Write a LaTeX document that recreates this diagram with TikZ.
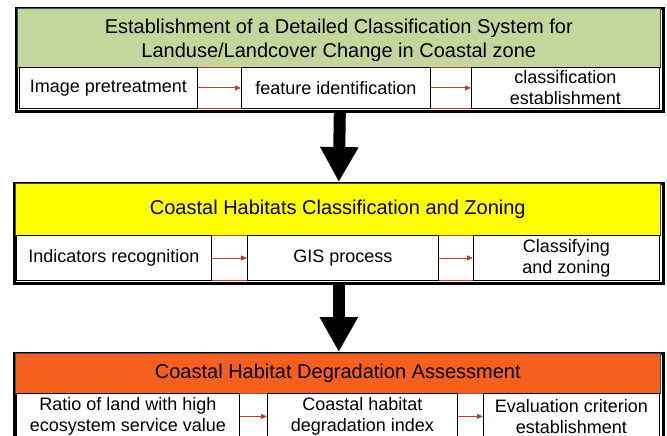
\documentclass[tikz,border=0pt]{standalone}
\usepackage{fontspec}
\setmainfont{Liberation Sans}
\usetikzlibrary{arrows.meta}
\definecolor{hgreen}{RGB}{195,214,155}
\definecolor{hyellow}{RGB}{255,255,0}
\definecolor{horange}{RGB}{245,96,30}
\definecolor{gapred}{RGB}{192,60,50}
\begin{document}
\begin{tikzpicture}[x=1pt,y=-1pt,
  frame/.style={draw=black,line width=2.6pt,anchor=north west,inner sep=0pt},
  header/.style={draw=black!70,line width=0.6pt,anchor=north west,inner sep=0pt,align=center,
    font=\fontsize{20}{24}\selectfont},
  cell/.style={draw=black,line width=0.9pt,fill=white,anchor=north west,inner sep=0pt,align=center,
    font=\fontsize{18}{21}\selectfont},
  gapline/.style={draw=gapred,line width=0.9pt},
  link/.style={draw=gapred,line width=0.9pt,-{Triangle[length=6pt,width=5pt]}},
  bigarrow/.style={draw=black,line width=12pt,-{Triangle[length=35pt,width=36pt]}}
]
\useasboundingbox (0,0) rectangle (667,436);
\clip (0,0) rectangle (667,436);
\fill[white] (0,0) rectangle (667,436);

% Panel 1
\node[frame,minimum width=647pt,minimum height=103pt] (p1) at (15,7) {};
\node[header,fill=hgreen,minimum width=643pt,minimum height=59pt] (h1) at (17,8)
  {\rule{0pt}{20pt}Establishment of a Detailed Classification System for\\Landuse/Landcover Change in Coastal zone};
\node[cell,minimum width=178pt,minimum height=41pt] (a1) at (19,67) {Image pretreatment};
\node[cell,minimum width=189pt,minimum height=41pt] (b1) at (241,67) {feature identification};
\node[cell,minimum width=188pt,minimum height=41pt] (c1) at (471,67) {classification\\establishment};
\draw[gapline] (a1.north east) -- (b1.north west);
\draw[gapline] (a1.south east) -- (b1.south west);
\draw[gapline] (b1.north east) -- (c1.north west);
\draw[gapline] (b1.south east) -- (c1.south west);
\draw[link] (a1.east) -- (b1.west);
\draw[link] (b1.east) -- (c1.west);

% Panel 2
\node[frame,minimum width=649pt,minimum height=100pt] (p2) at (13,182) {};
\node[header,fill=hyellow,minimum width=645pt,minimum height=52pt] (h2) at (15,183)
  {Coastal Habitats Classification and Zoning};
\node[cell,minimum width=195pt,minimum height=45pt] (a2) at (16,235) {Indicators recognition};
\node[cell,minimum width=191pt,minimum height=45pt] (b2) at (247,235) {GIS process};
\node[cell,minimum width=186pt,minimum height=45pt] (c2) at (473,235) {Classifying\\and zoning};
\draw[gapline] (a2.north east) -- (b2.north west);
\draw[gapline] (a2.south east) -- (b2.south west);
\draw[gapline] (b2.north east) -- (c2.north west);
\draw[gapline] (b2.south east) -- (c2.south west);
\draw[link] (a2.east) -- (b2.west);
\draw[link] (b2.east) -- (c2.west);

% Panel 3
\node[frame,minimum width=649pt,minimum height=100pt] (p3) at (13,352) {};
\node[header,fill=horange,minimum width=645pt,minimum height=40pt] (h3) at (15,353)
  {Coastal Habitat Degradation Assessment};
\node[cell,minimum width=223pt,minimum height=46pt] (a3) at (16,393) {Ratio of land with high\\ecosystem service value};
\node[cell,minimum width=190pt,minimum height=46pt] (b3) at (267,393) {Coastal habitat\\degradation index};
\node[cell,minimum width=176pt,minimum height=46pt] (c3) at (483,393) {Evaluation criterion\\establishment};
\draw[gapline] (a3.north east) -- (b3.north west);
\draw[gapline] (a3.south east) -- (b3.south west);
\draw[gapline] (b3.north east) -- (c3.north west);
\draw[gapline] (b3.south east) -- (c3.south west);
\draw[link] (a3.east) -- (b3.west);
\draw[link] (b3.east) -- (c3.west);

% Big arrows
\draw[bigarrow] (p1.south) -- (p2.north);
\draw[bigarrow] (p2.south) -- (p3.north);
\end{tikzpicture}
\end{document}
